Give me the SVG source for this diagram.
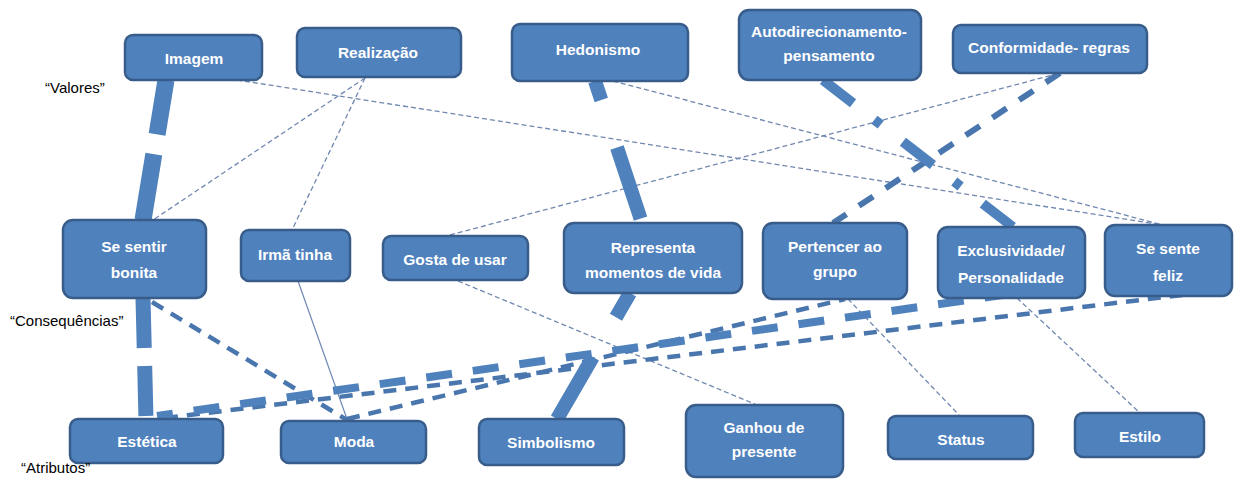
<svg xmlns="http://www.w3.org/2000/svg" width="1234" height="489" viewBox="0 0 1234 489">
<style>
.n rect{fill:#4F81BD;stroke:#385D8A;stroke-width:2.5}
.n text{fill:#fff;font-family:"Liberation Sans",Arial,sans-serif;font-weight:bold;font-size:15.5px;text-anchor:middle}
.lbl{fill:#000;font-family:"Liberation Sans",Arial,sans-serif;font-size:15px}
.c line{fill:none}
.thin{stroke:#7088B0;stroke-width:1.3;stroke-dasharray:5 3}
.solid{stroke:#6F89B3;stroke-width:1.2}
.med{stroke:#4A76AE;stroke-width:4.5;stroke-dasharray:13 9}
.med6{stroke:#4A76AE;stroke-width:6;stroke-dasharray:17 15}
.thick{stroke:#4F81BD}
</style>
<rect width="1234" height="489" fill="#fff"/>
<g id="connectors" class="c">
  <line class="thin" x1="365" y1="78" x2="153" y2="220"/>
  <line class="thin" x1="365" y1="78" x2="292" y2="230"/>
  <line class="thin" x1="237" y1="80" x2="1163" y2="225"/>
  <line class="thin" x1="613" y1="81" x2="1163" y2="225"/>
  <line class="thin" x1="450" y1="235" x2="1060" y2="73"/>
  <line class="thin" x1="458" y1="281" x2="757" y2="405"/>
  <line class="thin" x1="848" y1="299" x2="960" y2="416"/>
  <line class="thin" x1="1017" y1="298" x2="1140" y2="413"/>
  <line class="solid" x1="298" y1="281" x2="347" y2="419"/>
  <line class="med" x1="152" y1="302" x2="347" y2="420"/>
  <line class="med" x1="165" y1="418" x2="1190" y2="294"/>
  <line class="med" x1="347" y1="419" x2="845" y2="299"/>
  <line class="med6" x1="1060" y1="73" x2="833" y2="223"/>
  <line class="thick" x1="157" y1="416" x2="1010" y2="294" stroke-width="8" stroke-dasharray="26 21" stroke-dashoffset="10"/>
  <line class="thick" x1="823" y1="80" x2="1013" y2="227" stroke-width="10" stroke-dasharray="38 27 8 28"/>
  <line class="thick" x1="595" y1="81" x2="642" y2="223" stroke-width="14" stroke-dasharray="75 50" stroke-dashoffset="55"/>
  <line class="thick" x1="630" y1="293" x2="557" y2="419" stroke-width="14" stroke-dasharray="75 46" stroke-dashoffset="47"/>
  <line class="thick" x1="166" y1="80" x2="143" y2="220" stroke-width="17" stroke-dasharray="55 20 70 20"/>
  <line class="thick" x1="143" y1="298" x2="146" y2="419" stroke-width="15" stroke-dasharray="50 18"/>
</g>
<g id="imagem" class="n"><rect x="125" y="35" width="137" height="45" rx="8"/><text x="194" y="64">Imagem</text></g>
<g id="realizacao" class="n"><rect x="297" y="28" width="164" height="49" rx="8"/><text x="378" y="58">Realização</text></g>
<g id="hedonismo" class="n"><rect x="512" y="24" width="176" height="57" rx="8"/><text x="598" y="55">Hedonismo</text></g>
<g id="autodirecionamento" class="n"><rect x="739" y="10" width="182" height="70" rx="10"/><text x="829" y="37" font-size="14">Autodirecionamento-</text><text x="829" y="61" font-size="14">pensamento</text></g>
<g id="conformidade" class="n"><rect x="953" y="25" width="194" height="48" rx="8"/><text x="1049" y="53" font-size="14.5">Conformidade- regras</text></g>
<g id="se-sentir-bonita" class="n"><rect x="63" y="220" width="143" height="78" rx="10"/><text x="134" y="252" font-size="16">Se sentir</text><text x="134" y="278" font-size="16">bonita</text></g>
<g id="irma-tinha" class="n"><rect x="241" y="230" width="109" height="51" rx="8"/><text x="295" y="260" font-size="16">Irmã tinha</text></g>
<g id="gosta-de-usar" class="n"><rect x="383" y="236" width="145" height="44" rx="8"/><text x="455" y="265">Gosta de usar</text></g>
<g id="representa" class="n"><rect x="564" y="223" width="178" height="70" rx="10"/><text x="653" y="253">Representa</text><text x="653" y="278">momentos de vida</text></g>
<g id="pertencer" class="n"><rect x="763" y="223" width="144" height="76" rx="10"/><text x="835" y="252">Pertencer ao</text><text x="835" y="277">grupo</text></g>
<g id="exclusividade" class="n"><rect x="938" y="227" width="147" height="71" rx="10"/><text x="1011" y="256">Exclusividade/</text><text x="1011" y="283">Personalidade</text></g>
<g id="se-sente-feliz" class="n"><rect x="1105" y="225" width="127" height="71" rx="10"/><text x="1168" y="254">Se sente</text><text x="1168" y="281">feliz</text></g>
<g id="estetica" class="n"><rect x="70" y="419" width="153" height="44" rx="8"/><text x="147" y="447">Estética</text></g>
<g id="moda" class="n"><rect x="281" y="421" width="145" height="42" rx="8"/><text x="354" y="447">Moda</text></g>
<g id="simbolismo" class="n"><rect x="479" y="419" width="145" height="46" rx="8"/><text x="551" y="448">Simbolismo</text></g>
<g id="ganhou" class="n"><rect x="686" y="405" width="157" height="72" rx="10"/><text x="764" y="433">Ganhou de</text><text x="764" y="457">presente</text></g>
<g id="status" class="n"><rect x="888" y="416" width="145" height="43" rx="8"/><text x="961" y="445">Status</text></g>
<g id="estilo" class="n"><rect x="1075" y="413" width="129" height="44" rx="8"/><text x="1140" y="442">Estilo</text></g>
<text class="lbl" x="45" y="93">“Valores”</text>
<text class="lbl" x="10" y="326">“Consequências”</text>
<text class="lbl" x="21" y="473">“Atributos”</text>
</svg>
